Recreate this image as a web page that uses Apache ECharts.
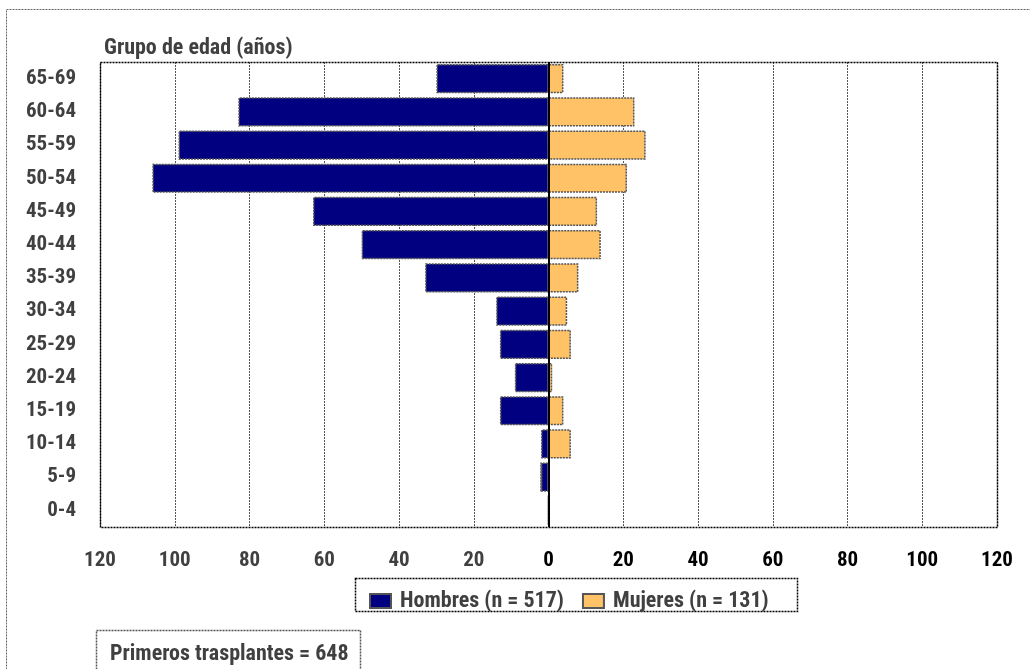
<!DOCTYPE html>
<html>
<head>
<meta charset="utf-8">
<script src="https://cdn.jsdelivr.net/npm/echarts@6/dist/echarts.min.js"></script>
<style>
html,body{margin:0;padding:0;background:#fff;}
#c{width:1030px;height:669px;}
</style>
</head>
<body>
<div id="c"></div>
<script>
const categories = ['0-4','5-9','10-14','15-19','20-24','25-29','30-34','35-39','40-44','45-49','50-54','55-59','60-64','65-69'];
const hombres = [0,2,2,13,9,13,14,33,50,63,106,99,83,30];
const mujeres = [0,0,6,4,1,6,5,8,14,13,21,26,23,4];
const xTicks = [-120,-100,-80,-60,-40,-20,0,20,40,60,80,100,120];
const nHombres = 517, nMujeres = 131, total = 648;

const FONT = '"Liberation Sans Narrow","Arial Narrow","Roboto Condensed","DejaVu Sans Condensed",sans-serif';
const gridL = 100, gridT = 62, gridR = 997, gridB = 527;

const chart = echarts.init(document.getElementById('c'), null, {renderer:'canvas'});
const dash = [2,1];
chart.setOption({
  animation:false,
  backgroundColor:'#fff',
  textStyle:{fontFamily:FONT},
  grid:{left:gridL, top:gridT, right:1030-gridR, bottom:669-gridB},
  title:{text:'Grupo de edad (años)', left:99, top:32,
    textStyle:{fontFamily:FONT, fontSize:22, fontWeight:'bold', color:'#404040'}},
  legend:{show:true, left:364, top:585, itemWidth:21, itemHeight:14, itemGap:18, icon:'rect',
    textStyle:{fontFamily:FONT, fontSize:22, fontWeight:'bold', color:'#404040', padding:[0,0,0,4]},
    data:['Hombres (n = '+nHombres+')','Mujeres (n = '+nMujeres+')']},
  xAxis:{type:'value', min:-120, max:120, interval:20,
    axisLine:{show:false}, axisTick:{show:false},
    axisLabel:{margin:23, fontFamily:FONT, fontSize:21, fontWeight:'bold',
      formatter:v=>String(Math.abs(v)),
      color:(v)=> (Number(v) < 0 ? '#404040' : '#000')},
    splitLine:{show:true, lineStyle:{color:'#555', width:1, type:dash}}},
  yAxis:{type:'category', data:categories,
    axisLine:{show:false, onZero:false}, axisTick:{show:false},
    axisLabel:{margin:24, fontFamily:FONT, fontSize:21, fontWeight:'bold', color:'#404040'}},
  series:[
    {name:'Hombres (n = '+nHombres+')', type:'bar', stack:'t', barCategoryGap:'12%',
      data:hombres.map(v=>-v),
      itemStyle:{color:'#000080', borderColor:'#555', borderWidth:1.5, borderType:dash},
      markLine:{silent:true, symbol:'none', label:{show:false}, z:10,
        lineStyle:{color:'#000', width:2, type:'solid'}, data:[{xAxis:0}]}},
    {name:'Mujeres (n = '+nMujeres+')', type:'bar', stack:'t', barCategoryGap:'12%',
      data:mujeres,
      itemStyle:{color:'#FFC266', borderColor:'#555', borderWidth:1.5, borderType:dash}}
  ],
  graphic:[
    {type:'rect', shape:{x:6.5, y:9.5, width:1100, height:700}, style:{fill:null, stroke:'#666', lineWidth:1, lineDash:dash}, silent:true},
    {type:'rect', shape:{x:gridL+0.5, y:gridT+0.5, width:gridR-gridL, height:gridB-gridT}, style:{fill:null, stroke:'#000', lineWidth:1.5, lineDash:dash}, silent:true, z:5},
    {type:'rect', shape:{x:355.5, y:578.5, width:442, height:33}, style:{fill:null, stroke:'#000', lineWidth:1.5, lineDash:dash}, silent:true},
    {type:'rect', shape:{x:96.5, y:630.5, width:264, height:60}, style:{fill:null, stroke:'#555', lineWidth:1.5, lineDash:dash}, silent:true},
    {type:'text', left:110, top:643, style:{text:'Primeros trasplantes = '+total, fontFamily:FONT, fontSize:22, fontWeight:'bold', fill:'#404040'}}
  ]
});
</script>
</body>
</html>
